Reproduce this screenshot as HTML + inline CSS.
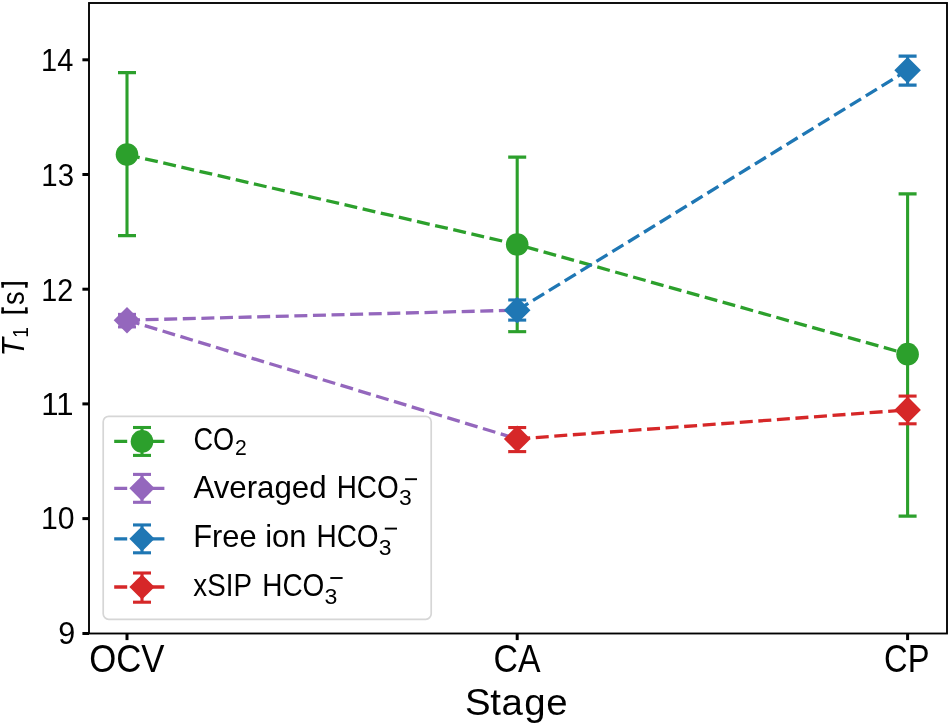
<!DOCTYPE html>
<html><head><meta charset="utf-8"><style>
html,body{margin:0;padding:0;background:#fff;width:950px;height:724px;overflow:hidden;font-family:"Liberation Sans",sans-serif;}
svg{display:block;will-change:transform;}
</style></head><body>
<svg width="950" height="724" viewBox="0 0 950 724">
<rect width="950" height="724" fill="#fff"/>
<defs><clipPath id="ax"><rect x="89.0" y="3.0" width="858.0" height="630.5"/></clipPath></defs>
<g clip-path="url(#ax)"><line x1="127.0" y1="72.58" x2="127.0" y2="235.58" stroke="#2ca02c" stroke-width="3.1"/><line x1="118.0" y1="72.58" x2="136.0" y2="72.58" stroke="#2ca02c" stroke-width="3.1"/><line x1="118.0" y1="235.58" x2="136.0" y2="235.58" stroke="#2ca02c" stroke-width="3.1"/><line x1="517.2" y1="157.17" x2="517.2" y2="331.67" stroke="#2ca02c" stroke-width="3.1"/><line x1="508.2" y1="157.17" x2="526.2" y2="157.17" stroke="#2ca02c" stroke-width="3.1"/><line x1="508.2" y1="331.67" x2="526.2" y2="331.67" stroke="#2ca02c" stroke-width="3.1"/><line x1="907.6" y1="193.85" x2="907.6" y2="516.1" stroke="#2ca02c" stroke-width="3.1"/><line x1="898.6" y1="193.85" x2="916.6" y2="193.85" stroke="#2ca02c" stroke-width="3.1"/><line x1="898.6" y1="516.1" x2="916.6" y2="516.1" stroke="#2ca02c" stroke-width="3.1"/><line x1="127.0" y1="314.4" x2="127.0" y2="326.9" stroke="#9467bd" stroke-width="3.1"/><line x1="118.0" y1="314.4" x2="136.0" y2="314.4" stroke="#9467bd" stroke-width="3.1"/><line x1="118.0" y1="326.9" x2="136.0" y2="326.9" stroke="#9467bd" stroke-width="3.1"/><line x1="517.2" y1="299.94" x2="517.2" y2="320.1" stroke="#1f77b4" stroke-width="3.1"/><line x1="508.2" y1="299.94" x2="526.2" y2="299.94" stroke="#1f77b4" stroke-width="3.1"/><line x1="508.2" y1="320.1" x2="526.2" y2="320.1" stroke="#1f77b4" stroke-width="3.1"/><line x1="907.6" y1="56.08" x2="907.6" y2="85.1" stroke="#1f77b4" stroke-width="3.1"/><line x1="898.6" y1="56.08" x2="916.6" y2="56.08" stroke="#1f77b4" stroke-width="3.1"/><line x1="898.6" y1="85.1" x2="916.6" y2="85.1" stroke="#1f77b4" stroke-width="3.1"/><line x1="517.2" y1="427.56" x2="517.2" y2="451.6" stroke="#d62728" stroke-width="3.1"/><line x1="508.2" y1="427.56" x2="526.2" y2="427.56" stroke="#d62728" stroke-width="3.1"/><line x1="508.2" y1="451.6" x2="526.2" y2="451.6" stroke="#d62728" stroke-width="3.1"/><line x1="907.6" y1="396.08" x2="907.6" y2="423.8" stroke="#d62728" stroke-width="3.1"/><line x1="898.6" y1="396.08" x2="916.6" y2="396.08" stroke="#d62728" stroke-width="3.1"/><line x1="898.6" y1="423.8" x2="916.6" y2="423.8" stroke="#d62728" stroke-width="3.1"/><polyline points="127.0,154.6 517.2,244.45 907.6,354.15" fill="none" stroke="#2ca02c" stroke-width="3.3" stroke-dasharray="13 5.6"/><circle cx="127.0" cy="154.6" r="11.3" fill="#2ca02c"/><circle cx="517.2" cy="244.45" r="11.3" fill="#2ca02c"/><circle cx="907.6" cy="354.15" r="11.3" fill="#2ca02c"/><polyline points="127.0,320.2 517.2,310.15" fill="none" stroke="#9467bd" stroke-width="3.3" stroke-dasharray="13 5.6"/><polyline points="127.0,320.2 517.2,438.9" fill="none" stroke="#9467bd" stroke-width="3.3" stroke-dasharray="13 5.6"/><polygon points="127.0,306.9 140.3,320.2 127.0,333.5 113.7,320.2" fill="#9467bd"/><polyline points="517.2,310.15 907.6,70.2" fill="none" stroke="#1f77b4" stroke-width="3.3" stroke-dasharray="13 5.6"/><polygon points="517.2,296.85 530.5,310.15 517.2,323.45 503.9,310.15" fill="#1f77b4"/><polygon points="907.6,56.9 920.9,70.2 907.6,83.5 894.3,70.2" fill="#1f77b4"/><polyline points="517.2,438.9 907.6,409.9" fill="none" stroke="#d62728" stroke-width="3.3" stroke-dasharray="13 5.6"/><polygon points="517.2,425.6 530.5,438.9 517.2,452.2 503.9,438.9" fill="#d62728"/><polygon points="907.6,396.6 920.9,409.9 907.6,423.2 894.3,409.9" fill="#d62728"/></g>
<rect x="89.0" y="3.0" width="858.0" height="630.5" fill="none" stroke="#000" stroke-width="1.87"/><line x1="82.4" y1="633.5" x2="89.0" y2="633.5" stroke="#000" stroke-width="3.0"/><line x1="82.4" y1="518.6" x2="89.0" y2="518.6" stroke="#000" stroke-width="3.0"/><line x1="82.4" y1="403.9" x2="89.0" y2="403.9" stroke="#000" stroke-width="3.0"/><line x1="82.4" y1="289.2" x2="89.0" y2="289.2" stroke="#000" stroke-width="3.0"/><line x1="82.4" y1="174.5" x2="89.0" y2="174.5" stroke="#000" stroke-width="3.0"/><line x1="82.4" y1="59.8" x2="89.0" y2="59.8" stroke="#000" stroke-width="3.0"/><line x1="127.0" y1="633.5" x2="127.0" y2="640.1" stroke="#000" stroke-width="3.0"/><line x1="517.2" y1="633.5" x2="517.2" y2="640.1" stroke="#000" stroke-width="3.0"/><line x1="907.6" y1="633.5" x2="907.6" y2="640.1" stroke="#000" stroke-width="3.0"/>
<rect x="103.2" y="416.3" width="328" height="203" rx="5.5" ry="5.5" fill="#fff" stroke="#d6d6d6" stroke-width="1.7"/><line x1="114.2" y1="441.4" x2="169" y2="441.4" stroke="#2ca02c" stroke-width="3.3" stroke-dasharray="13 5.6"/><line x1="142" y1="427.5" x2="142" y2="455.4" stroke="#2ca02c" stroke-width="3.1"/><line x1="133.0" y1="427.5" x2="151.0" y2="427.5" stroke="#2ca02c" stroke-width="3.1"/><line x1="133.0" y1="455.4" x2="151.0" y2="455.4" stroke="#2ca02c" stroke-width="3.1"/><circle cx="142" cy="441.4" r="11.3" fill="#2ca02c"/><line x1="114.2" y1="488.3" x2="169" y2="488.3" stroke="#9467bd" stroke-width="3.3" stroke-dasharray="13 5.6"/><line x1="142" y1="474.4" x2="142" y2="502.3" stroke="#9467bd" stroke-width="3.1"/><line x1="133.0" y1="474.4" x2="151.0" y2="474.4" stroke="#9467bd" stroke-width="3.1"/><line x1="133.0" y1="502.3" x2="151.0" y2="502.3" stroke="#9467bd" stroke-width="3.1"/><polygon points="142,475.7 154.6,488.3 142,500.9 129.4,488.3" fill="#9467bd"/><line x1="114.2" y1="538.8" x2="169" y2="538.8" stroke="#1f77b4" stroke-width="3.3" stroke-dasharray="13 5.6"/><line x1="142" y1="524.95" x2="142" y2="552.8" stroke="#1f77b4" stroke-width="3.1"/><line x1="133.0" y1="524.95" x2="151.0" y2="524.95" stroke="#1f77b4" stroke-width="3.1"/><line x1="133.0" y1="552.8" x2="151.0" y2="552.8" stroke="#1f77b4" stroke-width="3.1"/><polygon points="142,526.2 154.6,538.8 142,551.4 129.4,538.8" fill="#1f77b4"/><line x1="114.2" y1="587.0" x2="169" y2="587.0" stroke="#d62728" stroke-width="3.3" stroke-dasharray="13 5.6"/><line x1="142" y1="573.0" x2="142" y2="602.2" stroke="#d62728" stroke-width="3.1"/><line x1="133.0" y1="573.0" x2="151.0" y2="573.0" stroke="#d62728" stroke-width="3.1"/><line x1="133.0" y1="602.2" x2="151.0" y2="602.2" stroke="#d62728" stroke-width="3.1"/><polygon points="142,574.4 154.6,587.0 142,599.6 129.4,587.0" fill="#d62728"/>
<g font-family="Liberation Sans, sans-serif" fill="#000"><text transform="translate(41.12,70.6) scale(0.941,1)" font-size="30.8">14</text><text transform="translate(41.29,185.5) scale(0.955,1)" font-size="30.8">13</text><text transform="translate(41.34,300.5) scale(0.932,1)" font-size="30.8">12</text><text transform="translate(41.19,414.5) scale(1.007,1)" font-size="30.8">11</text><text transform="translate(41.04,529.2) scale(0.981,1)" font-size="30.8">10</text><text transform="translate(58.31,644.1) scale(0.993,1)" font-size="30.8">9</text><text transform="translate(89.22,672.0) scale(0.914,1)" font-size="38">OCV</text><text transform="translate(493.62,672.1) scale(0.89,1)" font-size="38">CA</text><text transform="translate(884.08,671.8) scale(0.859,1)" font-size="38">CP</text><text transform="translate(465.11,714.6) scale(1.015,1)" font-size="37.8">S</text><text transform="translate(490.23,714.6) scale(1.015,1)" font-size="37.8">t</text><text transform="translate(501.49,714.6) scale(1.015,1)" font-size="37.8">a</text><text transform="translate(524.30,714.6) scale(1.015,1)" font-size="37.8">g</text><text transform="translate(546.20,714.6) scale(1.015,1)" font-size="37.8">e</text><text transform="translate(193.53,450.3) scale(0.867,1)" font-size="31.3">CO</text><text transform="translate(234.93,454.7) scale(0.97,1)" font-size="21.8">2</text><text transform="translate(193.40,497.6) scale(0.999,1)" font-size="31.3">Averaged</text><text transform="translate(336.72,497.6) scale(0.892,1)" font-size="31.3">HCO</text><text transform="translate(399.04,504.9) scale(1.06,1)" font-size="21.6">3</text><text transform="translate(193.23,546.9) scale(0.986,1)" font-size="31.3">Free ion</text><text transform="translate(316.41,546.9) scale(0.895,1)" font-size="31.3">HCO</text><text transform="translate(378.84,554.6) scale(1.06,1)" font-size="21.6">3</text><text transform="translate(193.31,596.3) scale(0.887,1)" font-size="31.3">xSIP</text><text transform="translate(262.21,596.3) scale(0.894,1)" font-size="31.3">HCO</text><text transform="translate(324.53,603.8) scale(1.07,1)" font-size="21.6">3</text><text transform="translate(23.8,356.50) rotate(-90) scale(0.967,1)" font-size="31.2" font-style="italic">T</text><text transform="translate(27.9,337.72) rotate(-90) scale(0.86,1)" font-size="22.5">1</text><text transform="translate(24.0,305.09) rotate(-90) scale(0.886,1)" font-size="30.8">s</text><rect x="405.1" y="478.25" width="11.9" height="1.9" fill="#000"/><rect x="384.8" y="527.65" width="12.2" height="1.9" fill="#000"/><rect x="330.3" y="577.05" width="12.3" height="1.9" fill="#000"/><rect x="1.4" y="282.1" width="26.2" height="2.5" fill="#000"/><rect x="1.4" y="282.1" width="2.5" height="5.6" fill="#000"/><rect x="25.1" y="282.1" width="2.5" height="5.6" fill="#000"/><rect x="1.4" y="310.9" width="26.2" height="2.5" fill="#000"/><rect x="1.4" y="307.3" width="2.5" height="6.1" fill="#000"/><rect x="25.1" y="307.3" width="2.5" height="6.1" fill="#000"/></g>
</svg>
</body></html>
